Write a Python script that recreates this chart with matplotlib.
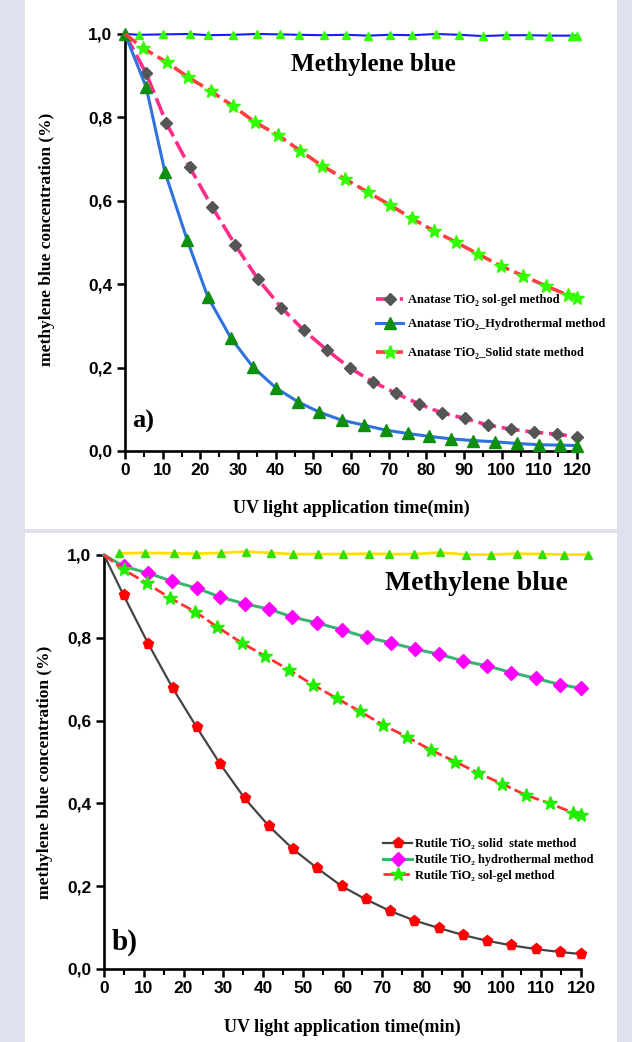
import matplotlib
matplotlib.use('Agg')
import matplotlib.pyplot as plt
from matplotlib.patches import Rectangle

# data (time in min, relative concentration)
xticks = [0, 10, 20, 30, 40, 50, 60, 70, 80, 90, 100, 110, 120]
yticks = [0.0, 0.2, 0.4, 0.6, 0.8, 1.0]
ytick_labels = ['0,0', '0,2', '0,4', '0,6', '0,8', '1,0']

# a) anatase
t_flat_a = [0, 3.8, 10.2, 17.3, 22.1, 28.7, 35.0, 41.1, 46.3, 52.8, 58.8, 64.5,
            70.3, 76.2, 82.6, 88.7, 95.0, 101.1, 107.2, 112.6, 118.7, 120]
flat_a = [1.0, 0.998, 0.999, 1.0, 0.997, 0.998, 1.0, 0.999, 0.998, 0.997, 0.998, 0.996,
          0.998, 0.997, 1.0, 0.998, 0.995, 0.997, 0.997, 0.996, 0.996, 0.996]

t_sg_a = [0, 5.6, 11.0, 17.2, 23.2, 29.2, 35.3, 41.5, 47.5, 53.6, 59.7, 65.8, 72.0,
          78.0, 84.2, 90.3, 96.4, 102.6, 108.7, 114.8, 120]
sg_a = [1.0, 0.906, 0.786, 0.680, 0.584, 0.495, 0.412, 0.344, 0.289, 0.242, 0.199,
        0.166, 0.138, 0.113, 0.091, 0.078, 0.062, 0.052, 0.045, 0.040, 0.034]

t_hy_a = [0, 5.6, 10.6, 16.5, 22.0, 28.1, 34.0, 40.1, 45.9, 51.6, 57.5, 63.4, 69.2,
          75.0, 80.8, 86.6, 92.4, 98.2, 104.0, 109.8, 115.6, 120]
hy_a = [1.0, 0.873, 0.669, 0.506, 0.369, 0.271, 0.201, 0.151, 0.118, 0.093, 0.074,
        0.062, 0.050, 0.042, 0.035, 0.029, 0.025, 0.022, 0.018, 0.015, 0.014, 0.013]

t_ss_a = [0, 4.8, 11.1, 16.8, 22.8, 28.7, 34.6, 40.5, 46.5, 52.3, 58.4, 64.4, 70.3,
          76.1, 82.0, 88.0, 93.8, 99.7, 105.7, 111.7, 117.5, 120]
ss_a = [1.0, 0.966, 0.932, 0.896, 0.863, 0.827, 0.788, 0.758, 0.720, 0.684, 0.652,
        0.621, 0.590, 0.558, 0.528, 0.500, 0.472, 0.444, 0.420, 0.396, 0.374, 0.368]

# b) rutile
t_flat_b = [3.8, 10.2, 17.6, 23.1, 29.4, 35.6, 42.1, 47.5, 53.8, 60.2, 66.7, 71.8,
            78.1, 84.5, 91.0, 97.3, 103.8, 110.1, 115.7, 121.8]
flat_b = [1.004, 1.005, 1.004, 1.003, 1.005, 1.008, 1.005, 1.002, 1.002, 1.002,
          1.003, 1.002, 1.002, 1.006, 1.001, 1.001, 1.003, 1.002, 1.001, 1.001]

t_ss_b = [0, 4.9, 11.1, 17.3, 23.3, 29.3, 35.4, 41.5, 47.6, 53.7, 59.8, 65.9, 72.0,
          78.1, 84.2, 90.3, 96.4, 102.5, 108.6, 114.7, 120]
ss_b = [1.0, 0.903, 0.786, 0.678, 0.584, 0.494, 0.412, 0.345, 0.289, 0.243, 0.200,
        0.168, 0.140, 0.117, 0.099, 0.082, 0.068, 0.057, 0.048, 0.041, 0.036]

t_hy_b = [0, 4.9, 11.1, 17.0, 23.3, 29.3, 35.5, 41.6, 47.4, 53.6, 59.9, 66.1, 72.1,
          78.2, 84.3, 90.4, 96.4, 102.5, 108.6, 114.7, 120]
hy_b = [1.0, 0.973, 0.956, 0.937, 0.920, 0.898, 0.882, 0.869, 0.850, 0.836, 0.819,
        0.801, 0.788, 0.773, 0.760, 0.744, 0.732, 0.716, 0.702, 0.687, 0.678]

t_sg_b = [0, 4.9, 10.7, 16.6, 22.9, 28.5, 34.6, 40.5, 46.6, 52.6, 58.5, 64.4, 70.3,
          76.3, 82.2, 88.3, 94.2, 100.2, 106.1, 112.1, 118.1, 120]
sg_b = [1.0, 0.965, 0.932, 0.896, 0.863, 0.826, 0.788, 0.756, 0.722, 0.686, 0.654,
        0.622, 0.589, 0.560, 0.529, 0.501, 0.473, 0.447, 0.420, 0.400, 0.377, 0.373]

serif = ['Liberation Serif', 'DejaVu Serif']
narrow = ['Liberation Sans Narrow', 'Liberation Sans', 'DejaVu Sans']

fig = plt.figure(figsize=(6.32, 10.42), dpi=100, facecolor='#dfe1ef')
# white panels (behind the axes)
fig.patches.append(Rectangle((0.0396, 0.4923), 0.9367, 0.5077, transform=fig.transFigure,
                             facecolor='white', edgecolor='none', zorder=-10))
fig.patches.append(Rectangle((0.0396, 0.0), 0.9367, 0.4885, transform=fig.transFigure,
                             facecolor='white', edgecolor='none', zorder=-10))


def style_axes(ax):
    ax.set_xlim(0, 120)
    ax.set_ylim(0, 1.0)
    ax.set_facecolor('none')
    for s in ['top', 'right']:
        ax.spines[s].set_visible(False)
    for s in ['left', 'bottom']:
        ax.spines[s].set_linewidth(1.9)
    ax.set_xticks(xticks)
    ax.set_xticks(range(5, 120, 10), minor=True)
    ax.set_yticks(yticks)
    ax.set_yticklabels(ytick_labels)
    ax.tick_params(which='major', length=6, width=1.8, direction='out', pad=3)
    ax.tick_params(which='minor', length=4, width=1.5, direction='out')
    ax.tick_params(axis='y', which='minor', length=0)
    for lab in ax.get_xticklabels() + ax.get_yticklabels():
        lab.set_family(narrow)
        lab.set_fontweight('bold')
        lab.set_fontsize(12.5)


# ---------- a) ----------
ax1 = fig.add_axes([0.1978, 0.5672, 0.7152, 0.4002])
style_axes(ax1)
ax1.plot(t_flat_a, flat_a, color='#1a1aff', lw=1.5, marker='^', ms=6,
         mfc='#33ff00', mec='#33ff00', markevery=slice(1, None), clip_on=False, zorder=3)
l_sg, = ax1.plot(t_sg_a, sg_a, color='#ff2d8a', lw=2.6, ls=(0, (5, 1.6)), marker='D', ms=6.5,
                 mfc='#555555', mec='#555555', markevery=slice(1, None), clip_on=False, zorder=4,
                 label='Anatase TiO\u2082 sol-gel method')
l_hy, = ax1.plot(t_hy_a, hy_a, color='#2f72dd', lw=2.2, marker='^', ms=8,
                 mfc='#0f8f0f', mec='#0f8f0f', clip_on=False, zorder=4,
                 label='Anatase TiO\u2082_Hydrothermal method')
l_ss, = ax1.plot(t_ss_a, ss_a, color='#ff4040', lw=2.6, ls=(0, (4, 1.5)), marker='*', ms=10,
                 mfc='#33ff00', mec='#33ff00', markevery=slice(1, None), clip_on=False, zorder=4,
                 label='Anatase TiO\u2082_Solid state method')

leg_kw = dict(frameon=False, prop={'family': serif, 'weight': 'bold', 'size': 9},
              handlelength=2.2, handletextpad=0.4, borderpad=0, borderaxespad=0)
leg1 = ax1.legend(handles=[l_sg, l_hy], loc='center left', bbox_to_anchor=(0.555, 0.333),
                  labelspacing=0.95, **leg_kw)
ax1.add_artist(leg1)
ax1.legend(handles=[l_ss], loc='center left', bbox_to_anchor=(0.555, 0.235), **leg_kw)

ax1.text(0.55, 0.927, 'Methylene blue', transform=ax1.transAxes, ha='center', va='center',
         family=serif, fontweight='bold', fontsize=18)
ax1.text(0.015, 0.07, 'a)', transform=ax1.transAxes, ha='left', va='center',
         family=serif, fontweight='bold', fontsize=19)
ax1.set_xlabel('UV light application time(min)', family=serif, fontweight='bold',
               fontsize=13, labelpad=15)
ax1.set_ylabel('methylene blue concentration (%)', family=serif, fontweight='bold',
               fontsize=12.5)
ax1.yaxis.set_label_coords(-0.155, 0.508)

# ---------- b) ----------
ax2 = fig.add_axes([0.1646, 0.0701, 0.7547, 0.3973])
style_axes(ax2)
ax2.plot(t_flat_b, flat_b, color='#ffe000', lw=2.0, marker='^', ms=6,
         mfc='#33dd00', mec='#33dd00', clip_on=False, zorder=3)
r_ss, = ax2.plot(t_ss_b, ss_b, color='#444444', lw=1.6, marker='p', ms=8,
                 mfc='#ff0000', mec='#ff0000', markevery=slice(1, None), clip_on=False, zorder=4,
                 label='Rutile TiO\u2082 solid  state method')
r_hy, = ax2.plot(t_hy_b, hy_b, color='#3cb371', lw=2.2, marker='D', ms=7.5,
                 mfc='#ff00ff', mec='#ff00ff', markevery=slice(1, None), clip_on=False, zorder=4,
                 label='Rutile TiO\u2082 hydrothermal method')
r_sg, = ax2.plot(t_sg_b, sg_b, color='#ff3333', lw=2.0, ls=(0, (4, 1.5)), marker='*', ms=10,
                 mfc='#22ee00', mec='#22ee00', markevery=slice(1, None), clip_on=False, zorder=4,
                 label='Rutile TiO\u2082 sol-gel method')
ax2.legend(handles=[r_ss, r_hy, r_sg], loc='center left', bbox_to_anchor=(0.585, 0.263),
           frameon=False, prop={'family': serif, 'weight': 'bold', 'size': 8.8},
           handlelength=2.4, handletextpad=0.2, borderpad=0, borderaxespad=0,
           labelspacing=0.3)

ax2.text(0.78, 0.932, 'Methylene blue', transform=ax2.transAxes, ha='center', va='center',
         family=serif, fontweight='bold', fontsize=20)
ax2.text(0.015, 0.065, 'b)', transform=ax2.transAxes, ha='left', va='center',
         family=serif, fontweight='bold', fontsize=21)
ax2.set_xlabel('UV light application time(min)', family=serif, fontweight='bold',
               fontsize=13, labelpad=16)
ax2.set_ylabel('methylene blue concentration (%)', family=serif, fontweight='bold',
               fontsize=12.5)
ax2.yaxis.set_label_coords(-0.107, 0.476)

fig.savefig('out.png', dpi=100, facecolor=fig.get_facecolor())
